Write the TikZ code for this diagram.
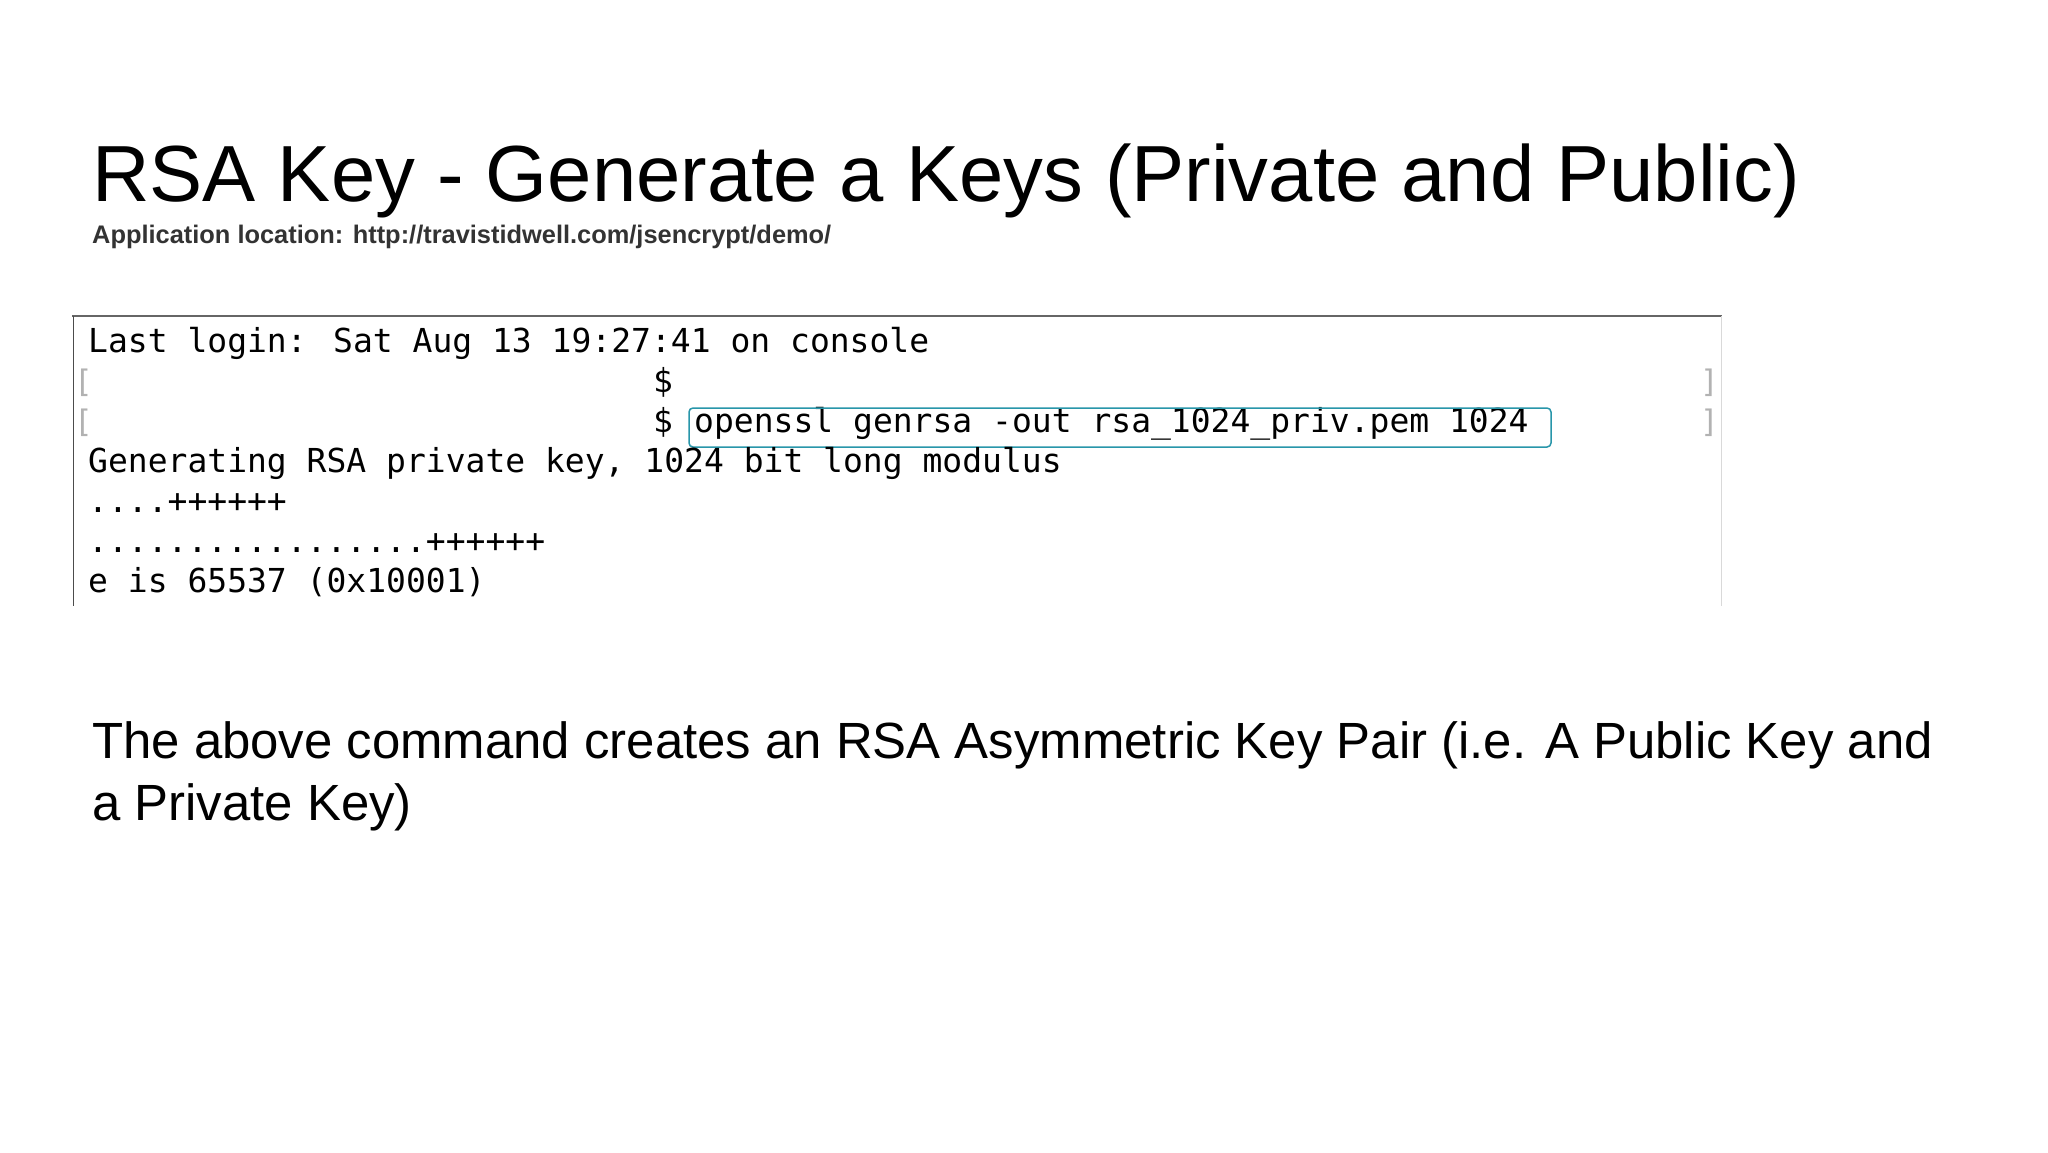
\documentclass[tikz,border=0pt]{standalone}
\usepackage{fontspec}
\setmainfont{Liberation Sans}
\newfontfamily\termfont{DejaVu Sans Mono}
\begin{document}
\begin{tikzpicture}[x=1pt,y=-1pt,
  txt/.style={anchor=base west,inner sep=0pt},
  term/.style={txt,font=\termfont\fontsize{33}{33}\selectfont},
  brk/.style={txt,text=black!30,font=\termfont\fontsize{31}{31}\selectfont}]
\useasboundingbox[fill=white] (0,0) rectangle (2048,1152);
\node[txt,font=\fontsize{79.6}{80}\selectfont] (title) at (92,201) {RSA Key - Generate a Keys (Private and Public)};
\node[txt,font=\bfseries\fontsize{25.4}{25}\selectfont,text=black!80] (sub) at (92,243) {Application location: http://travistidwell.com/jsencrypt/demo/};
% terminal
\draw[black!60,line width=2] (72,316) -- (1722,316);
\draw[black!70,line width=1] (73,316) -- (73,606);
\draw[black!15,line width=1] (1721,316) -- (1721,606);
\node[term] (l1) at (88,352) {Last login: Sat Aug 13 19:27:41 on console};
\node[brk] (b2l) at (74,392) {[};
\node[term] (l2) at (653,392) {\$};
\node[brk] (b2r) at (1700,392) {]};
\node[brk] (b3l) at (74,432) {[};
\node[term] (l3) at (653,432) {\$};
\node[term] (cmd) at (694,432) {openssl genrsa -out rsa\_1024\_priv.pem 1024};
\node[brk] (b3r) at (1700,432) {]};
\draw[draw={rgb,255:red,40;green,150;blue,170},line width=1.5,rounded corners=4] (689,408) rectangle (1551,447);
\node[term] (l4) at (88,472) {Generating RSA private key, 1024 bit long modulus};
\node[term] (l5) at (88,512) {....++++++};
\node[term] (l6) at (88,552) {.................++++++};
\node[term] (l7) at (88,592) {e is 65537 (0x10001)};
\node[txt,font=\fontsize{50.9}{62}\selectfont,align=left] (body) at (92,820) {The above command creates an RSA Asymmetric Key Pair (i.e. A Public Key and\\a Private Key)};
\end{tikzpicture}
\end{document}
